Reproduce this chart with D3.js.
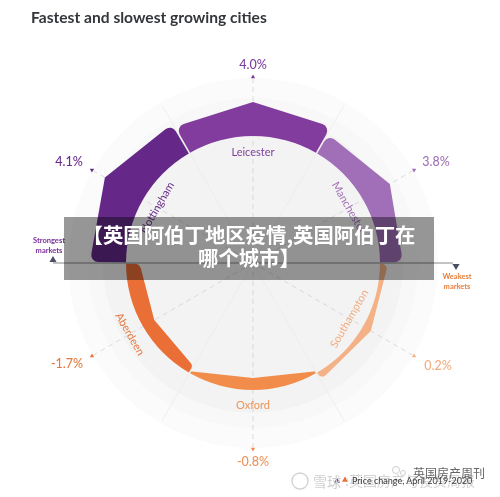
<!DOCTYPE html>
<html><head><meta charset="utf-8">
<script src="https://cdn.jsdelivr.net/npm/d3@7/dist/d3.min.js"></script>
<style>
html,body{margin:0;padding:0;background:#fff}
svg{display:block;filter:blur(0.35px)}
text{font-family:Lato,"Noto Sans",sans-serif}
</style></head><body>
<div id="chart"></div>
<script>
const cities=["Leicester","Manchester","Southampton","Oxford","Aberdeen","Nottingham"];
const values=[4.0,3.8,0.2,-0.8,-1.7,4.1];
const valueLabels=["4.0%","3.8%","0.2%","-0.8%","-1.7%","4.1%"];
const shoulderBefore=[0.88,0.71,0.9,0.2,0.62,0.82];
const shoulderAfter=[0.88,0.74,0.9,0.2,1.05,0.77];
const colors=["#823c9e","#a16fb8","#f3b185","#f18c4b","#ea6f36","#652889"];
const labelColors=["#7d3f9e","#a373b9","#f0ae82","#ee9359","#e57a42","#6a2c8c"];
const domainKnots=[-1.7,-0.8,0,0.2,3.8,4.0,4.1];
const radiusKnots=[114,115,127,136,158,161,171];

const W=500,H=497,cx=253,cy=263,r0=127;
const svg=d3.select("#chart").append("svg").attr("width",W).attr("height",H);
const radius=d3.scaleLinear().domain(domainKnots).range(radiusKnots);
const angle=d3.scaleLinear().domain([0,cities.length]).range([0,2*Math.PI]);
const g=svg.append("g").attr("transform",`translate(${cx},${cy})`);

[[185,"#fbfbfb"],[165,"#f8f8f8"],[150,"#f3f3f3"]].forEach(([r,c])=>g.append("circle").attr("r",r).attr("fill",c));

const step=angle(1);
cities.forEach((_,i)=>{
  const a=angle(i)+step/2;
  if(Math.abs(Math.sin(a))>0.99) return;
  const p=d3.pointRadial(a,182);
  g.append("line").attr("x2",p[0]).attr("y2",p[1]).attr("stroke","#ebebeb").attr("stroke-width",0.8);
});
cities.forEach((c,i)=>{
  const a=angle(i),p=d3.pointRadial(a,184);
  g.append("line").attr("x2",p[0]).attr("y2",p[1]).attr("stroke","#cecece").attr("stroke-width",0.7).attr("stroke-dasharray","5 4");
  const m=d3.pointRadial(a,186);
  g.append("path").attr("d",d3.symbol(d3.symbolTriangle,8)())
    .attr("transform",`translate(${m[0]},${m[1]}) rotate(${a*180/Math.PI})`).attr("fill",colors[i]);
});
cities.forEach((c,i)=>{
  const a=angle(i),a0=a-step/2+0.006,a1=a+step/2-0.006;
  const rt=radius(values[i]);
  const rs0=r0+(rt-r0)*shoulderBefore[i],rs1=r0+(rt-r0)*shoulderAfter[i];
  const p0=d3.pointRadial(a0,r0),p1=d3.pointRadial(a1,r0),s0=d3.pointRadial(a0,rs0),s1=d3.pointRadial(a1,rs1),t=d3.pointRadial(a,rt);
  const p=d3.path();
  p.moveTo(p0[0],p0[1]);
  p.arcTo(s0[0],s0[1],t[0],t[1],Math.min(7,Math.abs(rs0-r0)*0.6));
  p.lineTo(t[0],t[1]);
  p.arcTo(s1[0],s1[1],p1[0],p1[1],Math.min(7,Math.abs(rs1-r0)*0.6));
  p.lineTo(p1[0],p1[1]);
  p.arc(0,0,r0,a1-Math.PI/2,a0-Math.PI/2,true);
  p.closePath();
  g.append("path").attr("d",p.toString()).attr("fill",colors[i]);
});
cities.forEach((c,i)=>{
  const a=angle(i),rl=values[i]>=0?111:142,p=d3.pointRadial(a,rl);
  let rot=a*180/Math.PI; if(rot>90&&rot<270) rot-=180; if(rot>=270) rot-=360;
  g.append("text").attr("transform",`translate(${p[0]},${p[1]}) rotate(${rot})`)
    .attr("text-anchor","middle").attr("dy","0.35em").attr("font-size",11).attr("fill",labelColors[i]).text(c);
});
cities.forEach((c,i)=>{
  const a=angle(i),rl=[199,209,209,199,209,209][i],p=d3.pointRadial(a,rl);
  const dx=[0,2,4,0,-5,-3][i],dy=[1,3,-2,0,-4,3][i];
  g.append("text").attr("x",p[0]+dx).attr("y",p[1]+dy).attr("text-anchor","middle").attr("dy","0.35em")
    .attr("font-size",12.5).attr("font-weight",500).attr("fill",labelColors[i]).text(valueLabels[i]);
});
g.append("line").attr("x1",-200).attr("x2",200).attr("stroke","#6a6a6a").attr("stroke-width",0.8);
g.append("path").attr("d",d3.symbol(d3.symbolTriangle,22)()).attr("transform","translate(-200,-3)").attr("fill","#4b4f63");
g.append("path").attr("d",d3.symbol(d3.symbolTriangle,22)()).attr("transform","translate(203,3) rotate(180)").attr("fill","#4b4f63");

function two(x,y,a,b,col){
  const t=svg.append("text").attr("text-anchor","middle").attr("font-size",7.5).attr("font-weight",700).attr("fill",col);
  t.append("tspan").attr("x",x).attr("y",y).text(a);
  t.append("tspan").attr("x",x).attr("y",y+9.5).text(b);
}
two(49,243,"Strongest","markets","#7a2e9a");
two(457,279,"Weakest","markets","#e8803f");

svg.append("text").attr("x",31).attr("y",23).attr("font-size",15.6).attr("font-weight",700).attr("fill","#33363b").text("Fastest and slowest growing cities");

svg.append("path").attr("d",d3.symbol(d3.symbolTriangle,16)()).attr("transform","translate(337,481)").attr("fill","#7a3f9e");
svg.append("path").attr("d",d3.symbol(d3.symbolTriangle,16)()).attr("transform","translate(345,480)").attr("fill","#ea6f36");
svg.append("circle").attr("cx",300).attr("cy",481).attr("r",8).attr("fill","none").attr("stroke","#d4d4d4").attr("stroke-width",1.4);
svg.append("text").attr("x",313).attr("y",487).attr("font-size",14).attr("fill","#cfcfcf").style("font-family","'Noto Sans CJK SC'").text("雪球");
svg.append("text").attr("x",345).attr("y",486).attr("font-size",14).attr("fill","#d4d4d4").style("font-family","'Noto Sans CJK SC'").text(":英国房产与投资周报");
svg.append("text").attr("x",352).attr("y",484).attr("font-size",9).attr("fill","#3c3c3c").text("Price change, April 2019-2020");
svg.append("text").attr("x",413).attr("y",478).attr("font-size",12).attr("fill","#666").style("font-family","'Noto Sans CJK SC'").text("英国房产周刊");
[[396,470,3.5],[403,473,2.5]].forEach(([x,y,r])=>svg.append("circle").attr("cx",x).attr("cy",y).attr("r",r).attr("fill","none").attr("stroke","#cfcfcf").attr("stroke-width",1));

svg.append("rect").attr("x",64).attr("y",217).attr("width",370).attr("height",63).attr("fill","#000").attr("fill-opacity",0.4);
[["【英国阿伯丁地区疫情,英国阿伯丁在",243],["哪个城市】",266]].forEach(([s,y])=>{
  svg.append("text").attr("x",249).attr("y",y).attr("text-anchor","middle").attr("font-size",20.4).attr("font-weight",700)
    .attr("fill","#fff").style("font-family","'Noto Sans CJK SC'").text(s);
});
</script></body></html>
